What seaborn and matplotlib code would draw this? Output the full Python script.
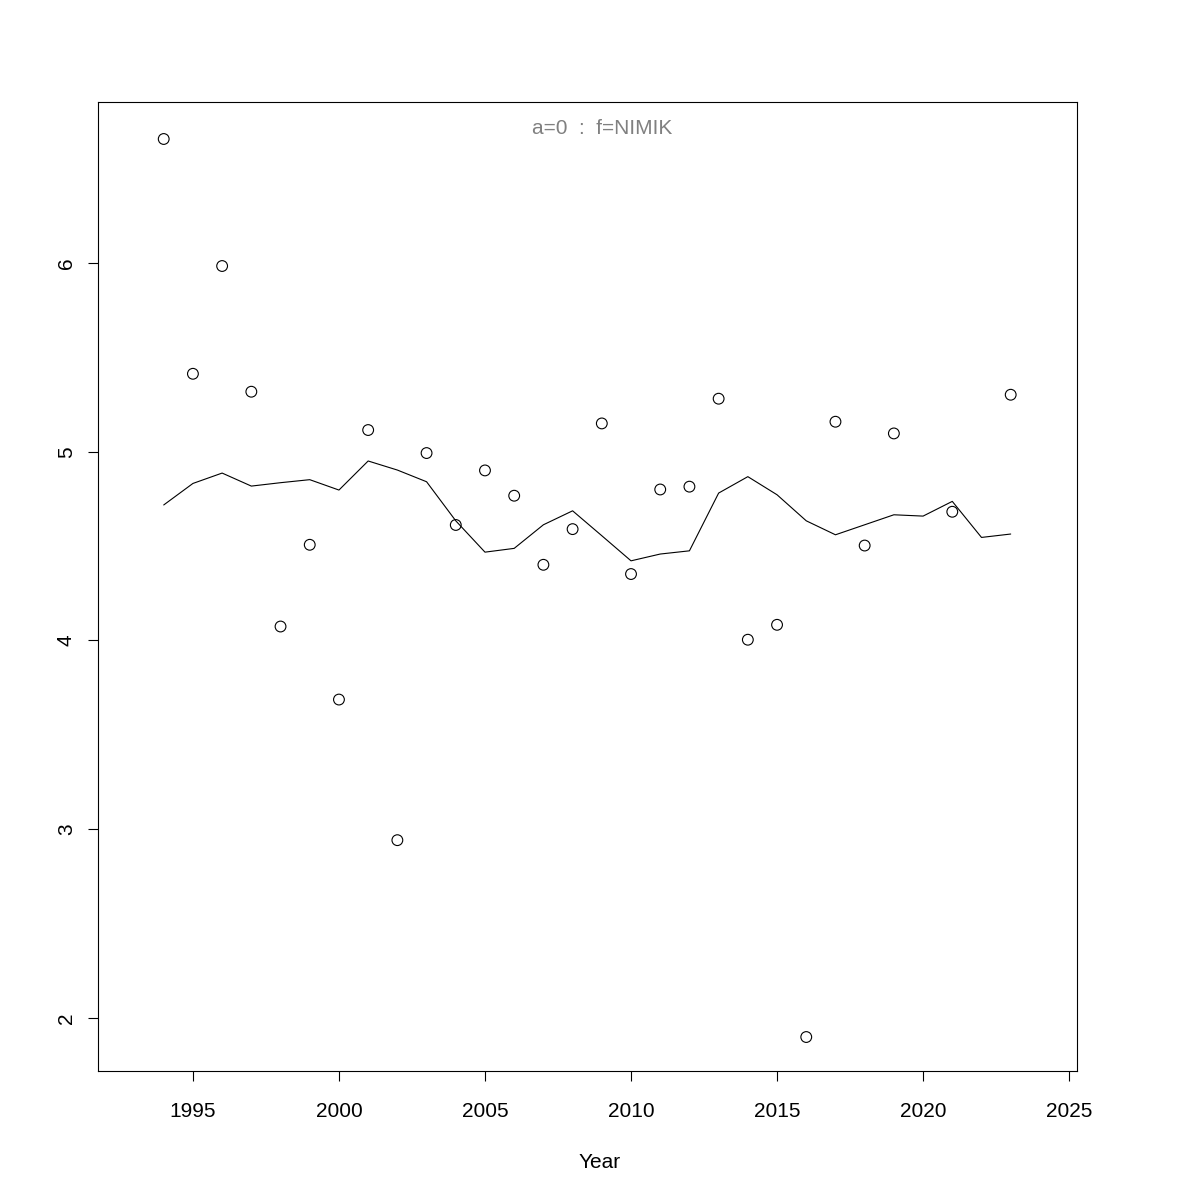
import matplotlib
matplotlib.use("Agg")
import matplotlib.pyplot as plt
import seaborn as sns
import pandas as pd

# Observed points (2020 and 2022 missing)
point_years = [1994, 1995, 1996, 1997, 1998, 1999, 2000, 2001, 2002, 2003,
               2004, 2005, 2006, 2007, 2008, 2009, 2010, 2011, 2012, 2013,
               2014, 2015, 2016, 2017, 2018, 2019, 2021, 2023]
point_values = [6.657, 5.413, 5.984, 5.318, 4.074, 4.507, 3.687, 5.115, 2.942, 4.993,
                4.612, 4.901, 4.767, 4.401, 4.590, 5.150, 4.352, 4.800, 4.815, 5.281,
                4.004, 4.083, 1.899, 5.159, 4.503, 5.097, 4.682, 5.302]

# Fitted line
line_years = list(range(1994, 2024))
line_values = [4.718, 4.832, 4.887, 4.818, 4.836, 4.852, 4.797, 4.951, 4.903, 4.841,
               4.634, 4.468, 4.488, 4.613, 4.687, 4.555, 4.422, 4.458, 4.475, 4.781,
               4.868, 4.772, 4.634, 4.560, 4.613, 4.666, 4.659, 4.737, 4.546, 4.564]

x_ticks = [1995, 2000, 2005, 2010, 2015, 2020, 2025]
y_ticks = [2, 3, 4, 5, 6]
title_text = "a=0  :  f=NIMIK"
x_label = "Year"

sns.set_theme(style="white")
plt.rcParams['font.family'] = ['Liberation Sans', 'DejaVu Sans']

fig = plt.figure(figsize=(12, 12), dpi=100)
ax = fig.add_axes([98/1200, 129/1200, 979/1200, 969/1200])

pts = pd.DataFrame({"year": point_years, "value": point_values})
ln = pd.DataFrame({"year": line_years, "value": line_values})

sns.lineplot(data=ln, x="year", y="value", ax=ax, color="black", linewidth=0.8)
sns.scatterplot(data=pts, x="year", y="value", ax=ax, s=60, facecolor="none",
                edgecolor="black", linewidth=0.8, marker="o")

ax.set_xlim(1991.75, 2025.27)
ax.set_ylim(1.719, 6.853)
ax.set_xticks(x_ticks)
ax.set_yticks(y_ticks)
ax.set_xticklabels([str(t) for t in x_ticks], fontsize=15, color="black")
ax.set_yticklabels([str(t) for t in y_ticks], fontsize=15, rotation=90, va="center",
                   color="black")
ax.tick_params(axis="both", direction="out", length=7, width=0.8, color="black",
               bottom=True, left=True)
ax.tick_params(axis="x", pad=15)
ax.tick_params(axis="y", pad=9)
for s in ax.spines.values():
    s.set_visible(True)
    s.set_color("black")
    s.set_linewidth(0.8)
ax.set_xlabel(x_label, fontsize=15, color="black", labelpad=30)
ax.xaxis.set_label_coords((600 - 98) / 979, -(1162 - 1071) / 969)
ax.xaxis.label.set_va("center")
ax.set_ylabel("")
ax.grid(False)
ax.text((602 - 98) / 979, 1 - (128 - 102) / 969, title_text, transform=ax.transAxes,
        ha="center", va="center", fontsize=15, color="#808080")

fig.savefig("out.png", dpi=100, facecolor="white")
